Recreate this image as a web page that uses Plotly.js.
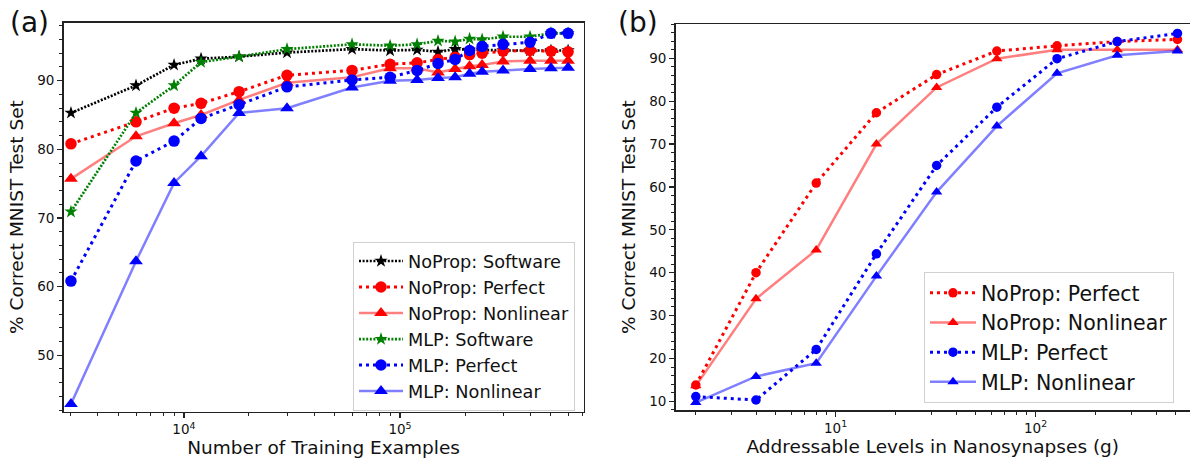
<!DOCTYPE html>
<html>
<head>
<meta charset="utf-8">
<script src="https://cdn.plot.ly/plotly-3.0.1.min.js"></script>
<style>html,body{margin:0;padding:0;background:#fff;}#chart{width:1190px;height:463px;}</style>
</head>
<body>
<div id="chart"></div>
<script>
// ---- Panel (a): accuracy vs number of training examples ----
const trainingExamples = [3000, 6000, 9000, 12000, 18000, 30000, 60000, 90000, 120000, 150000, 180000, 210000, 240000, 300000, 400000, 500000, 600000];
const aNoPropSoftware  = [85.3, 89.3, 92.3, 93.2, 93.5, 94.1, 94.6, 94.4, 94.5, 94.2, 94.6, 94.5, 94.5, 94.4, 94.4, 94.4, 94.4];
const aNoPropPerfect   = [80.8, 84.0, 86.0, 86.7, 88.4, 90.8, 91.5, 92.4, 92.6, 93.1, 93.4, 93.8, 94.0, 94.3, 94.4, 94.3, 94.2];
const aNoPropNonlinear = [75.7, 81.9, 83.8, 85.0, 87.2, 89.7, 90.5, 91.8, 91.8, 91.2, 91.7, 92.1, 92.3, 92.8, 92.9, 92.9, 92.9];
const aMlpSoftware     = [70.9, 85.3, 89.3, 92.7, 93.5, 94.6, 95.3, 95.1, 95.3, 95.8, 95.7, 96.1, 96.0, 96.4, 96.4, 96.9, 96.9];
const aMlpPerfect      = [60.8, 78.3, 81.2, 84.5, 86.5, 89.1, 90.1, 90.5, 91.5, 92.5, 93.1, 94.4, 95.0, 95.3, 95.6, 96.9, 96.9];
const aMlpNonlinear    = [42.9, 63.7, 75.1, 79.0, 85.3, 86.0, 89.0, 90.0, 90.1, 90.4, 90.5, 91.0, 91.3, 91.5, 91.7, 91.8, 91.9];

// ---- Panel (b): accuracy vs addressable levels ----
const levels = [2, 4, 8, 16, 32, 64, 128, 256, 512];
const bNoPropPerfect   = [13.8, 40.0, 60.9, 77.3, 86.2, 91.7, 92.9, 93.9, 94.4];
const bNoPropNonlinear = [13.6, 33.9, 45.3, 70.0, 83.2, 89.9, 92.0, 92.0, 92.0];
const bMlpPerfect      = [11.1, 10.3, 22.1, 44.4, 65.0, 78.6, 89.9, 93.9, 95.8];
const bMlpNonlinear    = [9.7, 15.8, 18.9, 39.2, 58.8, 74.2, 86.5, 90.7, 91.7];

const seriesNames = ['NoProp: Software', 'NoProp: Perfect', 'NoProp: Nonlinear', 'MLP: Software', 'MLP: Perfect', 'MLP: Nonlinear'];
const xTickValsA = [1e4, 1e5];
const xTickTextA = ['10<sup>4</sup>', '10<sup>5</sup>'];
const xTickValsB = [10, 100];
const xTickTextB = ['10<sup>1</sup>', '10<sup>2</sup>'];

const FONT = 'DejaVu Sans, Liberation Sans, sans-serif';
const RED = '#ff0000', BLUE = '#0000ff', GREEN = '#008000', BLACK = '#000000';

function styles(panel) {
  const big = panel === 'b';
  const circ = big ? 9.5 : 11.5, tri = big ? 10 : 12, star = 10;
  return {
    swBlack: {line: {color: BLACK, width: 2.7, dash: '2px,1.6px'}, marker: {symbol: 'star', size: star, color: BLACK}},
    perfRed: {line: {color: RED, width: 3, dash: '3px,4px'}, marker: {symbol: 'circle', size: circ, color: RED}},
    nlRed:   {line: {color: 'rgba(255,0,0,0.5)', width: 2.5}, marker: {symbol: 'triangle-up', size: tri, color: RED}},
    swGreen: {line: {color: GREEN, width: 2.7, dash: '2px,1.6px'}, marker: {symbol: 'star', size: star, color: GREEN}},
    perfBlue:{line: {color: BLUE, width: 3, dash: '3px,4px'}, marker: {symbol: 'circle', size: circ, color: BLUE}},
    nlBlue:  {line: {color: 'rgba(0,0,255,0.5)', width: 2.5}, marker: {symbol: 'triangle-up', size: tri, color: BLUE}}
  };
}
const sa = styles('a'), sb = styles('b');
function tr(x, y, name, st, xa, ya, leg) {
  return Object.assign({type: 'scatter', mode: 'lines+markers', x: x, y: y, name: name,
    xaxis: xa, yaxis: ya, legend: leg, cliponaxis: true}, st);
}

const data = [
  tr(trainingExamples, aNoPropSoftware, seriesNames[0], sa.swBlack, 'x', 'y', 'legend'),
  tr(trainingExamples, aNoPropPerfect, seriesNames[1], sa.perfRed, 'x', 'y', 'legend'),
  tr(trainingExamples, aNoPropNonlinear, seriesNames[2], sa.nlRed, 'x', 'y', 'legend'),
  tr(trainingExamples, aMlpSoftware, seriesNames[3], sa.swGreen, 'x', 'y', 'legend'),
  tr(trainingExamples, aMlpPerfect, seriesNames[4], sa.perfBlue, 'x', 'y', 'legend'),
  tr(trainingExamples, aMlpNonlinear, seriesNames[5], sa.nlBlue, 'x', 'y', 'legend'),
  tr(levels, bNoPropPerfect, seriesNames[1], sb.perfRed, 'x2', 'y2', 'legend2'),
  tr(levels, bNoPropNonlinear, seriesNames[2], sb.nlRed, 'x2', 'y2', 'legend2'),
  tr(levels, bMlpPerfect, seriesNames[4], sb.perfBlue, 'x2', 'y2', 'legend2'),
  tr(levels, bMlpNonlinear, seriesNames[5], sb.nlBlue, 'x2', 'y2', 'legend2')
];

const W = 1190, H = 463;
const px = v => v / W, py = v => 1 - v / H;
const axisCommon = {
  showline: true, linecolor: '#222', linewidth: 1.5, showgrid: false, zeroline: false,
  ticks: 'outside', ticklen: 5, tickwidth: 1.3, tickcolor: '#222',
  tickfont: {family: FONT, size: 13.5, color: '#111'}
};
const titleFont = {family: FONT, size: 18.5, color: '#111'};

const layout = {
  width: W, height: H, margin: {l: 0, r: 0, t: 0, b: 0},
  paper_bgcolor: '#fff', plot_bgcolor: '#fff',
  font: {family: FONT, color: '#111'},
  xaxis: Object.assign({}, axisCommon, {
    type: 'log', domain: [px(63.6), px(583.6)], range: [3.443, 5.85], anchor: 'y', mirror: true,
    tickvals: xTickValsA, ticktext: xTickTextA,
    minor: {ticks: 'outside', ticklen: 3, tickwidth: 1, tickcolor: '#222', dtick: 'D1', showgrid: false},
    title: {text: 'Number of Training Examples', font: titleFont, standoff: 5}
  }),
  yaxis: Object.assign({}, axisCommon, {
    domain: [py(411.5), py(22.7)], range: [41.8, 98.45], anchor: 'x', mirror: true,
    tickvals: [50, 60, 70, 80, 90],
    minor: {ticks: 'outside', ticklen: 3, tickwidth: 1, tickcolor: '#222', dtick: 2, showgrid: false},
    title: {text: '% Correct MNIST Test Set', font: titleFont, standoff: 8}
  }),
  xaxis2: Object.assign({}, axisCommon, {
    type: 'log', domain: [px(675.6), 1], range: [0.2, 2.772], anchor: 'y2', mirror: true,
    tickvals: xTickValsB, ticktext: xTickTextB,
    minor: {ticks: 'outside', ticklen: 3, tickwidth: 1, tickcolor: '#222', dtick: 'D1', showgrid: false},
    title: {text: 'Addressable Levels in Nanosynapses (g)', font: titleFont, standoff: 5}
  }),
  yaxis2: Object.assign({}, axisCommon, {
    domain: [py(410), py(24)], range: [7.97, 98.0], anchor: 'x2', mirror: false,
    tickvals: [10, 20, 30, 40, 50, 60, 70, 80, 90],
    minor: {ticks: 'outside', ticklen: 3, tickwidth: 1, tickcolor: '#222', dtick: 2, showgrid: false},
    title: {text: '% Correct MNIST Test Set', font: titleFont, standoff: 8}
  }),
  legend: {
    x: px(353), y: py(242), xanchor: 'left', yanchor: 'top',
    bgcolor: 'rgba(255,255,255,0.85)', bordercolor: '#d0d0d0', borderwidth: 1,
    font: {family: FONT, size: 17.7, color: '#111'}, itemwidth: 44, tracegroupgap: 0
  },
  legend2: {
    x: px(924), y: py(272), xanchor: 'left', yanchor: 'top',
    bgcolor: 'rgba(255,255,255,0.85)', bordercolor: '#d0d0d0', borderwidth: 1,
    font: {family: FONT, size: 20.5, color: '#111'}, itemwidth: 46, tracegroupgap: 0
  },
  showlegend: true,
  annotations: [
    {text: '(a)', xref: 'paper', yref: 'paper', x: px(8), y: py(22), xanchor: 'left', yanchor: 'middle',
     showarrow: false, font: {family: FONT, size: 28, color: '#111'}},
    {text: '(b)', xref: 'paper', yref: 'paper', x: px(616), y: py(23), xanchor: 'left', yanchor: 'middle',
     showarrow: false, font: {family: FONT, size: 28, color: '#111'}}
  ]
};

Plotly.newPlot('chart', data, layout, {staticPlot: true, displayModeBar: false});
</script>
</body>
</html>
